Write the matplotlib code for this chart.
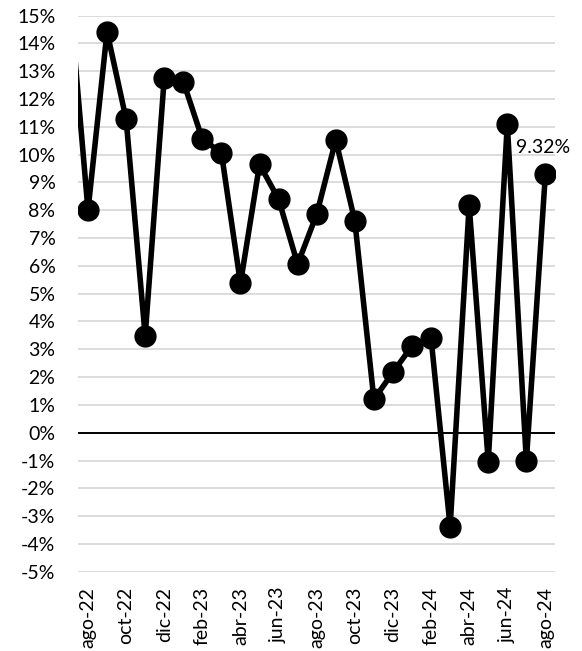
#!/usr/bin/env python3
import matplotlib

matplotlib.use("Agg")
import numpy as np
import matplotlib.pyplot as plt
from matplotlib.ticker import FuncFormatter

plt.rcParams["font.family"] = ["Lato", "DejaVu Sans"]

# monthly series, jul-22 .. ago-24 (jul-22 sits just outside the left edge)
months = ["jul-22", "ago-22", "sep-22", "oct-22", "nov-22", "dic-22",
          "ene-23", "feb-23", "mar-23", "abr-23", "may-23", "jun-23",
          "jul-23", "ago-23", "sep-23", "oct-23", "nov-23", "dic-23",
          "ene-24", "feb-24", "mar-24", "abr-24", "may-24", "jun-24",
          "jul-24", "ago-24"]
values = [16.0, 8.0, 14.42, 11.28, 3.48, 12.75,
          12.63, 10.56, 10.07, 5.37, 9.65, 8.40,
          6.06, 7.86, 10.53, 7.62, 1.20, 2.17,
          3.12, 3.40, -3.38, 8.19, -1.04, 11.10,
          -1.01, 9.32]
last_label = "9.32%"

x = np.arange(len(months))

fig = plt.figure(figsize=(5.82, 6.51), dpi=100)
ax = fig.add_axes([0.1335, 0.1218, 0.82, 0.8541])

ax.plot(x, values, color="black", lw=4.0, marker="o", ms=15,
        solid_joinstyle="round", zorder=3)
ax.axhline(0, color="black", lw=1.4, zorder=2)

ax.set_xlim(0.46, 25.5)
ax.set_ylim(-5, 15)
ax.set_yticks(np.arange(-5, 16, 1))
ax.yaxis.set_major_formatter(FuncFormatter(lambda v, p: f"{v:.0f}%"))
ax.grid(axis="y", color="#d9d9d9", lw=1.3, zorder=0)

ax.set_xticks(x[1::2])
ax.set_xticklabels(months[1::2], rotation=90, va="top", ha="center")

ax.tick_params(axis="both", length=0, labelsize=14)
ax.tick_params(axis="y", pad=16)
ax.tick_params(axis="x", pad=11)
for s in ax.spines.values():
    s.set_visible(False)

ax.annotate(last_label, (x[-1], values[-1]), textcoords="offset points",
            xytext=(-2, 19), ha="center", va="center", fontsize=14)

fig.savefig("out.png", dpi=100)
